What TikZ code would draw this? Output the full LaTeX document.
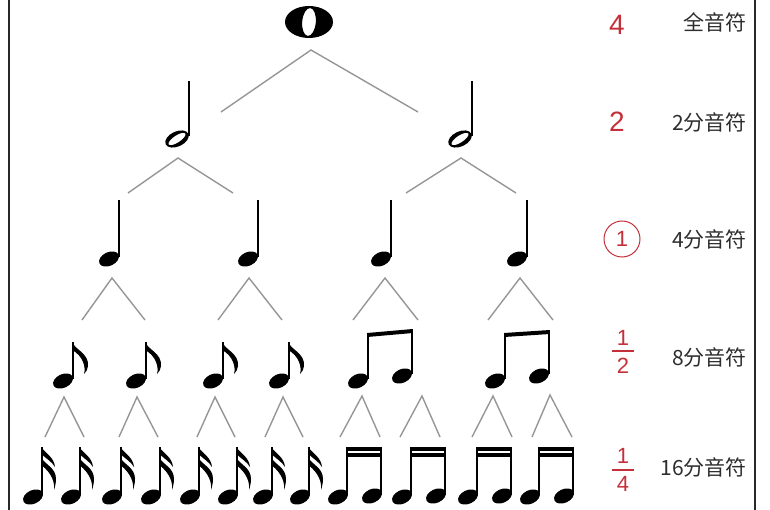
\documentclass[tikz,border=0pt]{standalone}
\usepackage{fontspec}
\setmainfont{Liberation Sans}
\newfontfamily\cjkfont{Noto Sans CJK SC}
\definecolor{notered}{RGB}{196,48,58}
\definecolor{wedgegray}{RGB}{150,150,150}
\definecolor{labelgray}{RGB}{45,45,45}
\definecolor{framegray}{RGB}{40,40,40}
\tikzset{
  wedgeline/.style={draw=wedgegray,line width=1.4pt},
  stemline/.style={draw=black,line width=1.6pt},
  redlbl/.style={text=notered,inner sep=0pt,font=\fontsize{28}{28}\selectfont},
  fraclbl/.style={text=notered,inner sep=0pt,font=\fontsize{22}{22}\selectfont},
  namelbl/.style={text=labelgray,inner sep=0pt,anchor=east,font=\cjkfont\fontsize{21}{21}\selectfont}
}
% filled note head
\newcommand\qhead[2]{\fill[shift={(#1,#2)},rotate=25] (0,0) ellipse [x radius=10.5pt, y radius=6.8pt];}
% hollow half note head
\newcommand\hhead[2]{\fill[even odd rule,shift={(#1,#2)},rotate=25] (0,0) ellipse [x radius=12.5pt, y radius=7.5pt] {[rotate=8] (0,0) ellipse [x radius=10pt, y radius=3.6pt]};}
% quarter note: head + stem
\newcommand\quarternote[3]{\qhead{#1}{#2}\draw[stemline] (#1+10,#2-2) -- (#1+10,#3);}
% eighth flag on stem top (sx,ty)
\newcommand\eflag[2]{\fill (#1-0.8,#2) .. controls (#1+2,#2+8) and (#1+16,#2+11) .. (#1+15,#2+24) .. controls (#1+15,#2+27) and (#1+13,#2+30) .. (#1+11,#2+32) .. controls (#1+13,#2+25) and (#1+10,#2+14) .. (#1-0.8,#2+8) -- cycle;}
% sixteenth flags on stem top (sx,ty)
\newcommand\sflag[2]{%
  \fill (#1-0.8,#2) .. controls (#1+4,#2+7) and (#1+12,#2+10) .. (#1+13,#2+20) .. controls (#1+10,#2+15) and (#1+5,#2+12) .. (#1-0.8,#2+7) -- cycle;
  \fill (#1-0.8,#2+11) .. controls (#1+4,#2+18) and (#1+14,#2+21) .. (#1+14,#2+32) .. controls (#1+14,#2+36) and (#1+13,#2+40) .. (#1+12,#2+43) .. controls (#1+13,#2+36) and (#1+10,#2+26) .. (#1-0.8,#2+18) -- cycle;}
% wedge: apex x,y ; left x ; right x ; bottom y
\newcommand\wedgeat[5]{\draw[wedgeline] (#3,#5) -- (#1,#2) -- (#4,#5);}
% beamed eighth pair: h1x h1y h2x h2y beam-left-y beam-right-y
\newcommand\beight[6]{\qhead{#1}{#2}\qhead{#3}{#4}
  \draw[stemline] (#1+10,#2-2) -- (#1+10,#5);
  \draw[stemline] (#3+10,#4-2) -- (#3+10,#6);
  \fill (#1+9.2,#5) -- (#3+10.8,#6) -- (#3+10.8,#6+4) -- (#1+9.2,#5+4) -- cycle;}
% beamed sixteenth pair: h1x h2x heads y, beams at 447
\newcommand\bsixteen[3]{\qhead{#1}{#3}\qhead{#2}{#3-1}
  \draw[stemline] (#1+9,#3-2) -- (#1+9,447);
  \draw[stemline] (#2+9,#3-3) -- (#2+9,447);
  \fill (#1+8.2,447) rectangle (#2+9.8,450.5);
  \fill (#1+8.2,453) rectangle (#2+9.8,456.5);}
% single sixteenth
\newcommand\ssixteen[2]{\qhead{#1}{#2}\draw[stemline] (#1+9,#2-2) -- (#1+9,447);\sflag{#1+9}{447}}
\begin{document}
\begin{tikzpicture}[x=1pt,y=-1pt]
\useasboundingbox (0,0) rectangle (770,510);
% frame lines
\draw[draw=framegray,line width=1.5pt] (9,0) -- (9,510);
\draw[draw=framegray,line width=1.5pt] (755,0) -- (755,510);

% whole note
\fill[even odd rule] (309,22) ellipse [x radius=24pt, y radius=16pt]
  {[shift={(309,22)},rotate=-5] (0,0) ellipse [x radius=6.8pt, y radius=14pt]};
\wedgeat{311}{50}{221}{418}{112}

% half notes
\hhead{177}{139}\draw[stemline] (189,136) -- (189,81);
\hhead{460}{139}\draw[stemline] (472,136) -- (472,81);
\wedgeat{178}{158}{128}{233}{193}
\wedgeat{461}{158}{406}{516}{193}

% quarter notes
\quarternote{109}{259}{200}
\quarternote{248}{259}{200}
\quarternote{381}{259}{200}
\quarternote{517}{259}{200}
\wedgeat{112}{278}{82}{145}{320}
\wedgeat{249}{278}{218}{282}{320}
\wedgeat{385}{278}{353}{418}{320}
\wedgeat{520}{278}{488}{553}{320}

% eighth notes
\foreach \hx in {63,136,213,279}{
  \qhead{\hx}{381}
  \draw[stemline] (\hx+10,379) -- (\hx+10,342);
  \eflag{\hx+10}{342}
}
\beight{358}{381}{402}{376}{333}{329}
\beight{495}{381}{539}{376}{333}{330}
\wedgeat{64}{397}{45}{84}{437}
\wedgeat{137}{397}{119}{158}{437}
\wedgeat{215}{397}{197}{235}{437}
\wedgeat{283}{397}{265}{303}{437}
\wedgeat{362}{396}{340}{380}{437}
\wedgeat{422}{396}{400}{440}{437}
\wedgeat{493}{396}{472}{512}{437}
\wedgeat{550}{395}{532}{572}{437}

% sixteenth notes
\foreach \hx in {33,71,112,151,190,228,263,300}{
  \ssixteen{\hx}{497}
}
\bsixteen{338}{372}{497}
\bsixteen{402}{436}{497}
\bsixteen{468}{502}{497}
\bsixteen{530}{564}{497}

% red values
\node[redlbl] (v4) at (617,25) {4};
\node[redlbl] (v2) at (617,122) {2};
\node[draw=notered,line width=1pt,circle,minimum size=36pt,inner sep=0pt,text=notered,font=\fontsize{22}{22}\selectfont] (v1) at (622,239) {1};
\node[fraclbl] (v12n) at (623,338) {1};
\draw[draw=notered,line width=1.2pt] (612,351) -- (634,351);
\node[fraclbl] (v12d) at (623,366) {2};
\node[fraclbl] (v14n) at (623,456) {1};
\draw[draw=notered,line width=1.2pt] (612,470) -- (634,470);
\node[fraclbl] (v14d) at (623,484) {4};

% names
\node[namelbl] (n1) at (747,22) {全音符};
\node[namelbl] (n2) at (747,122) {2分音符};
\node[namelbl] (n3) at (747,239) {4分音符};
\node[namelbl] (n4) at (747,357) {8分音符};
\node[namelbl] (n5) at (747,467) {16分音符};
\end{tikzpicture}
\end{document}
